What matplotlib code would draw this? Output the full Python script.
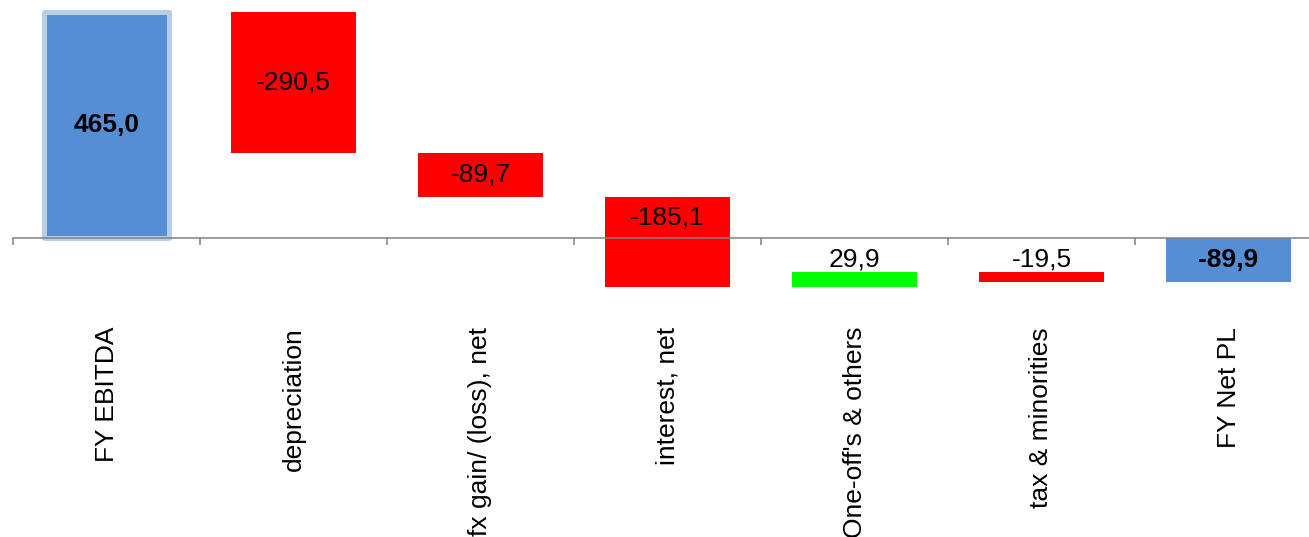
import matplotlib
matplotlib.use("Agg")
import matplotlib.pyplot as plt
from matplotlib.ticker import FixedLocator

plt.rcParams['font.family'] = ['Liberation Sans', 'DejaVu Sans']

# data
categories = ['FY EBITDA', 'depreciation', 'fx gain/ (loss), net', 'interest, net',
              "One-off's & others", 'tax & minorities', 'FY Net PL']
values = [465.0, -290.5, -89.7, -185.1, 29.9, -19.5, -89.9]
is_total = [True, False, False, False, False, False, True]

BLUE = '#558ED5'
RED = '#FF0000'
GREEN = '#00FF00'
AXIS = '#808080'

fig = plt.figure(figsize=(13.09, 5.37), dpi=100)
ax = fig.add_axes([13 / 1309, 0, 1 - 13 / 1309, 1])

# build waterfall segments
bottoms, heights, colors = [], [], []
running = 0.0
for v, tot in zip(values, is_total):
    if tot:
        bottoms.append(0.0)
        heights.append(v)
        colors.append(BLUE)
        running = v
    else:
        bottoms.append(running)
        heights.append(v)
        colors.append(GREEN if v > 0 else RED)
        running += v

x = list(range(len(categories)))
bars = ax.bar(x, heights, bottom=bottoms, width=0.668, color=colors, zorder=2)

# light blue frame around the first bar
bars[0].set_edgecolor('#B9CDE5')
bars[0].set_linewidth(3.6)
bars[0].set_joinstyle('round')

# value labels
for i, (v, b, tot) in enumerate(zip(values, bottoms, is_total)):
    lo, hi = min(b, b + v), max(b, b + v)
    txt = f"{v:.1f}".replace('.', ',')
    weight = 'bold' if tot else 'normal'
    if hi - lo < 40:
        ax.annotate(txt, (i, hi), xytext=(0, 4), textcoords='offset points',
                    ha='center', va='baseline', fontsize=19, fontweight=weight, zorder=3)
    else:
        if lo < 0 < hi:
            y = hi / 2
        else:
            y = (lo + hi) / 2
        ax.text(i, y, txt, ha='center', va='center', fontsize=19,
                fontweight=weight, zorder=3)

ax.set_xlim(-0.5, -0.5 + 1296 / 187)
ax.set_ylim(-615.2, 489.7)

for s in ['top', 'right', 'left']:
    ax.spines[s].set_visible(False)
ax.spines['bottom'].set_position(('data', 0))
ax.spines['bottom'].set_color(AXIS)
ax.spines['bottom'].set_linewidth(1.1)
ax.spines['bottom'].set_zorder(2.5)

ax.set_yticks([])
ax.xaxis.set_major_locator(FixedLocator([i - 0.5 for i in range(len(categories) + 1)]))
ax.xaxis.set_minor_locator(FixedLocator(x))
ax.tick_params(axis='x', which='major', length=5, width=1.1, color=AXIS,
               labelbottom=False)
ax.tick_params(axis='x', which='minor', length=0, pad=64, labelsize=19)
ax.set_xticks(x, categories, minor=True, rotation=90)
ax.patch.set_alpha(0)

fig.savefig('out.png', dpi=100)
